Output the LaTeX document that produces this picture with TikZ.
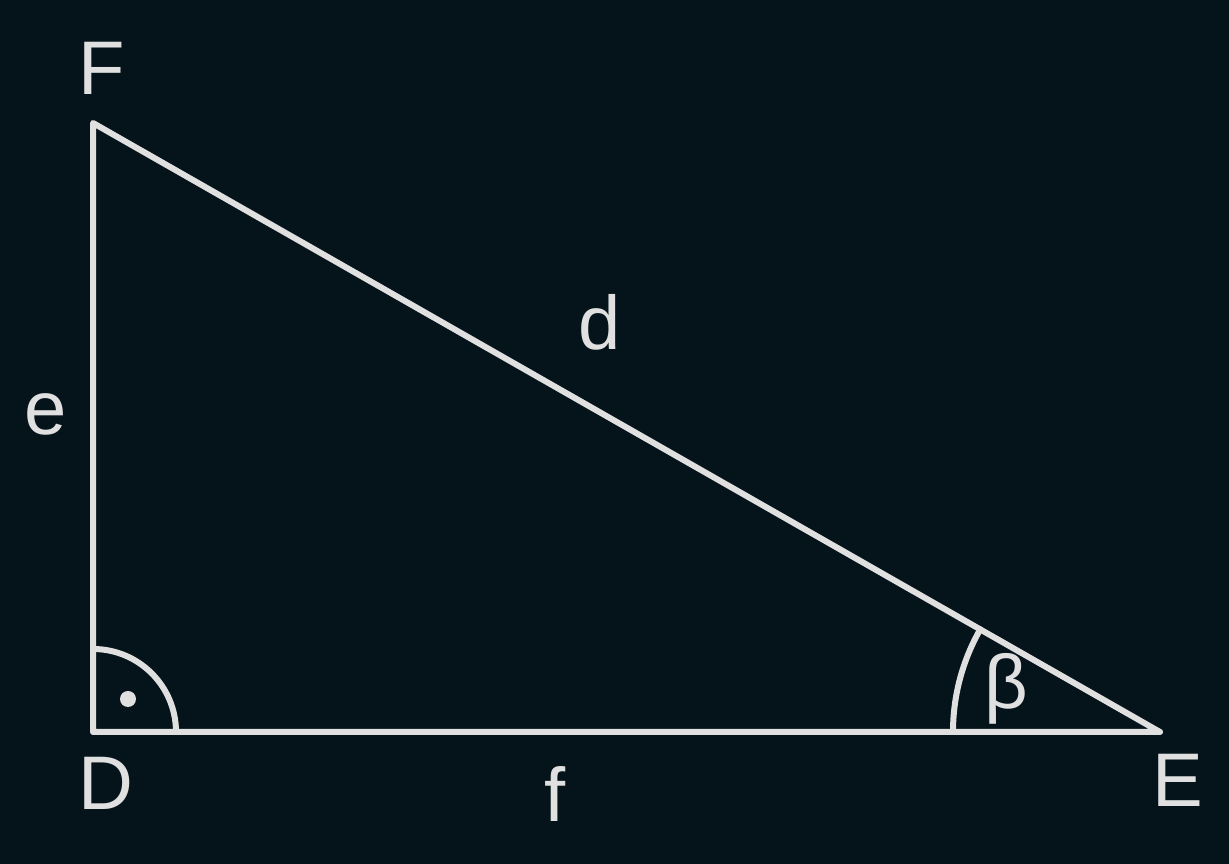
\documentclass[tikz,border=0pt]{standalone}
\usepackage{fontspec}
\setmainfont{Liberation Sans}
\definecolor{bgcol}{HTML}{04141A}
\definecolor{fgcol}{HTML}{E0E0E0}
\tikzset{
  edge/.style={draw=fgcol, line width=6pt, line join=round, line cap=round},
  lbl/.style={text=fgcol, inner sep=0pt, anchor=base, font=\fontsize{76}{80}\selectfont},
}
\begin{document}
\begin{tikzpicture}[x=1pt,y=1pt]
  \fill[bgcol] (0,0) rectangle (1229,864);
  \useasboundingbox (0,0) rectangle (1229,864);
  \coordinate (D) at (93,132);
  \coordinate (E) at (1160,132);
  \coordinate (F) at (93,741);
  \draw[edge] (F) -- (D) -- (E) -- cycle;
  \draw[edge] ([xshift=83pt]D) arc[start angle=0, end angle=90, radius=83];
  \draw[edge] ([xshift=-207pt]E) arc[start angle=180, end angle=150.28, radius=207];
  \fill[fgcol] (128,165) circle[radius=8];
  \node[lbl] (lF) at (102,769) {F};
  \node[lbl] (lE) at (1178,57) {E};
  \node[lbl] (lD) at (106,54) {D};
  \node[lbl] (ld) at (600,514) {d};
  \node[lbl] (le) at (46,429) {e};
  \node[lbl] (lf) at (555,42) {f};
  \node[lbl, anchor=center] (lb) at (1006,175) {β};
\end{tikzpicture}
\end{document}
